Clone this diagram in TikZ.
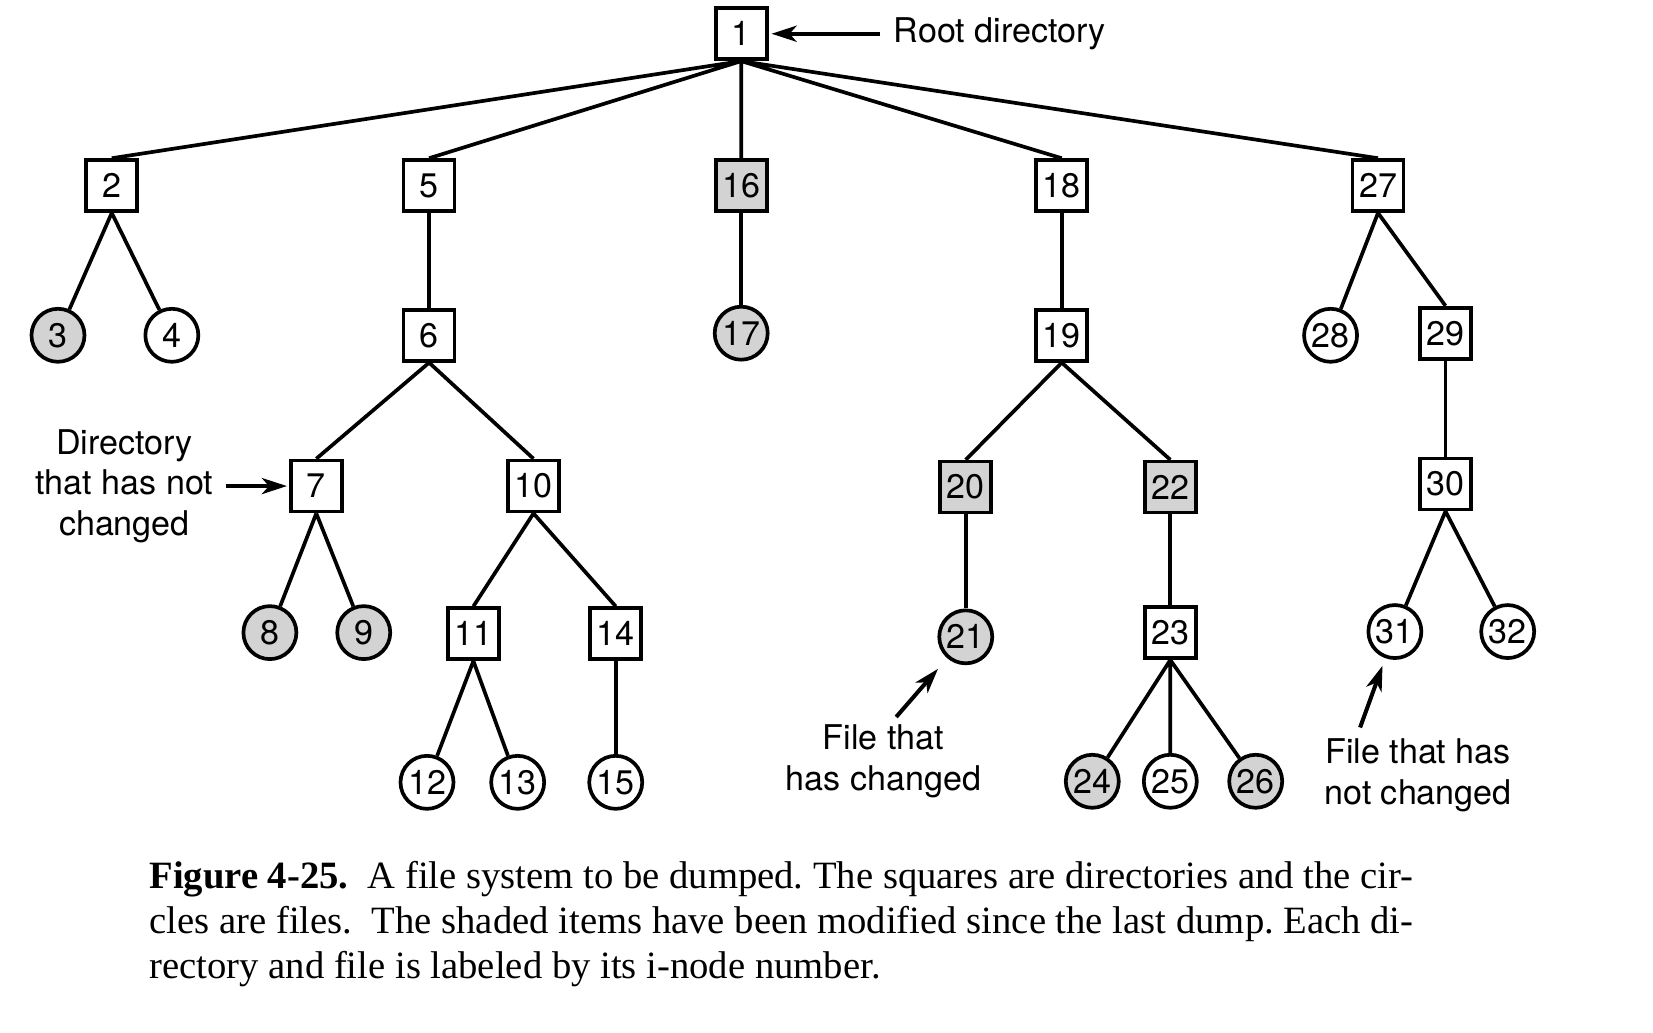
\documentclass[tikz,border=0pt]{standalone}
\usepackage{fontspec}
\setmainfont{Liberation Serif}
\newfontfamily\figfont{TeX Gyre Heros}
\usetikzlibrary{arrows.meta, positioning}
\definecolor{shade}{RGB}{211,211,211}

\begin{document}
\begin{tikzpicture}[x=0.01055cm, y=-0.01055cm, line width=1.05pt, align=center,
  font=\figfont\fontsize{9.7}{11.6}\selectfont,
  dir/.style={rectangle, draw, minimum size=0.51cm, inner sep=0pt},
  file/.style={circle, draw, minimum size=0.53cm, inner sep=0pt},
  changed/.style={fill=shade},
  lbl/.style={inner sep=0pt},
  ptr/.style={-{Stealth[length=2.5mm, width=1.6mm, inset=0.7mm]}, line width=1.15pt}]
\useasboundingbox (0,0) rectangle (16.53cm,-10.32cm);

\path (703,32) node[dir] (v1) {1}
      (106,176) node[dir] (v2) {2}
      (407,176) node[dir] (v5) {5}
      (703,176) node[dir, changed] (v16) {16}
      (1007,176) node[dir] (v18) {18}
      (1307,176) node[dir] (v27) {27};
\path (55,318) node[file, changed] (v3) {3}
      (163,318) node[file] (v4) {4}
      (407,318) node[dir] (v6) {6}
      (703,316) node[file, changed] (v17) {17}
      (1007,318) node[dir] (v19) {19}
      (1262,318) node[file] (v28) {28}
      (1371,316) node[dir] (v29) {29};
\path (300,461) node[dir] (v7) {7}
      (506,461) node[dir] (v10) {10}
      (916,462) node[dir, changed] (v20) {20}
      (1110,462) node[dir, changed] (v22) {22}
      (1371,459) node[dir] (v30) {30};
\path (256,600) node[file, changed] (v8) {8}
      (345,600) node[file, changed] (v9) {9}
      (449,601) node[dir] (v11) {11}
      (584,601) node[dir] (v14) {14}
      (916,604) node[file, changed] (v21) {21}
      (1110,600) node[dir] (v23) {23}
      (1323,599) node[file] (v31) {31}
      (1430,599) node[file] (v32) {32};
\path (405,742) node[file] (v12) {12}
      (491,742) node[file] (v13) {13}
      (584,742) node[file] (v15) {15}
      (1036,741) node[file, changed] (v24) {24}
      (1110,741) node[file] (v25) {25}
      (1191,741) node[file, changed] (v26) {26};

\draw (v1.south) -- (v2.north) (v1.south) -- (v5.north) (v1.south) -- (v16.north)
      (v1.south) -- (v18.north) (v1.south) -- (v27.north);
\draw (v2.south) -- (v3) (v2.south) -- (v4);
\draw (v5.south) -- (v6.north);
\draw (v16.south) -- (v17);
\draw (v18.south) -- (v19.north);
\draw (v27.south) -- (v28) (v27.south) -- (v29.north);
\draw (v6.south) -- (v7.north) (v6.south) -- (v10.north);
\draw (v19.south) -- (v20.north) (v19.south) -- (v22.north);
\draw (v29.south) -- (v30.north);
\draw (v7.south) -- (v8) (v7.south) -- (v9);
\draw (v10.south) -- (v11.north) (v10.south) -- (v14.north);
\draw (v20.south) -- (v21);
\draw (v22.south) -- (v23.north);
\draw (v30.south) -- (v31) (v30.south) -- (v32);
\draw (v11.south) -- (v12) (v11.south) -- (v13);
\draw (v14.south) -- (v15);
\draw (v23.south) -- (v24) (v23.south) -- (v25) (v23.south) -- (v26);

% labels and pointers
\path (846,32) node[lbl, anchor=west] (rootlbl) {Root directory}
      (118,461) node[lbl] (dirlbl) {Directory\\that has not\\changed}
      (838,722) node[lbl] (chglbl) {File that\\has changed}
      (1345,735) node[lbl] (nchglbl) {File that has\\not changed};
\coordinate (chgtail) at (850,680);
\coordinate (nchgtail) at (1290,690);
\draw[ptr, shorten <=0.117cm, shorten >=0.03cm] (rootlbl.west) -- (v1.east);
\draw[ptr, shorten <=0.106cm, shorten >=0.02cm] (dirlbl.east) -- (v7.west);
\draw[ptr, shorten >=0.14cm] (chgtail) -- (v21);
\draw[ptr, shorten >=0.08cm] (nchgtail) -- (v31);

\path (140,815) node[anchor=north west, text width=12.64cm, align=justify, inner sep=0pt,
      font=\rmfamily\fontsize{11}{12.8}\selectfont\frenchspacing] (caption)
  {\textbf{Figure 4-25.}\ \ A file system to be dumped. The squares are directories and the cir-\linebreak
   cles are files.\ \ The shaded items have been modified since the last dump. Each di-\linebreak
   rectory and file is labeled by its i-node number.};
\end{tikzpicture}
\end{document}
